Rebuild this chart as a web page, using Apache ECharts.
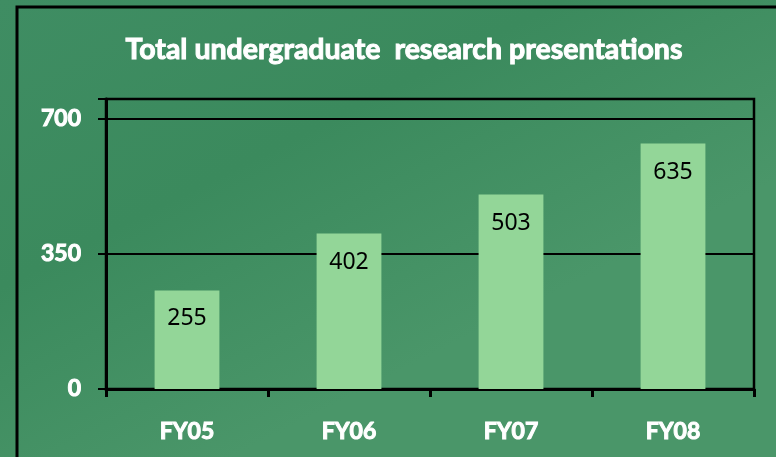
<!DOCTYPE html>
<html>
<head>
<meta charset="utf-8">
<script src="https://cdn.jsdelivr.net/npm/echarts@6/dist/echarts.min.js"></script>
<style>
  html, body { margin: 0; padding: 0; }
  #chart { width: 776px; height: 457px; }
</style>
</head>
<body>
<div id="chart"></div>
<script>
var categories = ['FY05', 'FY06', 'FY07', 'FY08'];
var presentations = [255, 402, 503, 635];
var yTicks = [0, 350, 700];

var myChart = echarts.init(document.getElementById('chart'));
myChart.setOption({
  backgroundColor: {
    type: 'linear', x: 0, y: 0, x2: 0.3, y2: 1,
    colorStops: [
      {offset: 0, color: '#3f8d63'},
      {offset: 0.5, color: '#3b8a5d'},
      {offset: 1, color: '#4a9669'}
    ]
  },
  title: {
    text: 'Total undergraduate  research presentations',
    left: 399,
    top: 30,
    textAlign: 'center',
    textStyle: {
      color: '#fff',
      fontFamily: 'Lato',
      fontWeight: 'bold',
      fontSize: 28.5,
      textBorderColor: '#fff',
      textBorderWidth: 1
    }
  },
  graphic: [{
    type: 'rect',
    shape: {x: 17, y: 7, width: 800, height: 500},
    style: {fill: 'none', stroke: '#000', lineWidth: 3},
    silent: true
  }],
  grid: {
    left: 106,
    right: 22,
    top: 99,
    bottom: 68,
    show: true,
    borderColor: '#000',
    borderWidth: 2.5
  },
  xAxis: {
    type: 'category',
    data: categories,
    axisLine: {lineStyle: {color: '#000', width: 3}},
    axisTick: {show: true, length: 8, lineStyle: {color: '#000', width: 3}},
    axisLabel: {
      color: '#fff',
      fontFamily: 'Lato',
      fontWeight: 'bold',
      fontSize: 23,
      margin: 31,
      textBorderColor: '#fff',
      textBorderWidth: 1
    }
  },
  yAxis: {
    type: 'value',
    min: 0,
    max: 750,
    interval: 350,
    axisLine: {show: true, lineStyle: {color: '#000', width: 3}},
    axisTick: {show: true, length: 8, lineStyle: {color: '#000', width: 2}},
    splitLine: {lineStyle: {color: '#000', width: 2}},
    axisLabel: {
      color: '#fff',
      fontFamily: 'Lato',
      fontWeight: 'bold',
      fontSize: 23,
      margin: 25,
      textBorderColor: '#fff',
      textBorderWidth: 1,
      formatter: function (v) {
        return yTicks.indexOf(v) >= 0 ? String(v) : '';
      }
    }
  },
  series: [{
    type: 'bar',
    data: presentations,
    barWidth: '40%',
    itemStyle: {color: '#93d698'},
    label: {
      show: true,
      position: 'insideTop',
      distance: 17,
      color: '#000',
      fontFamily: 'Noto Sans',
      fontSize: 23
    }
  }]
});
</script>
</body>
</html>
